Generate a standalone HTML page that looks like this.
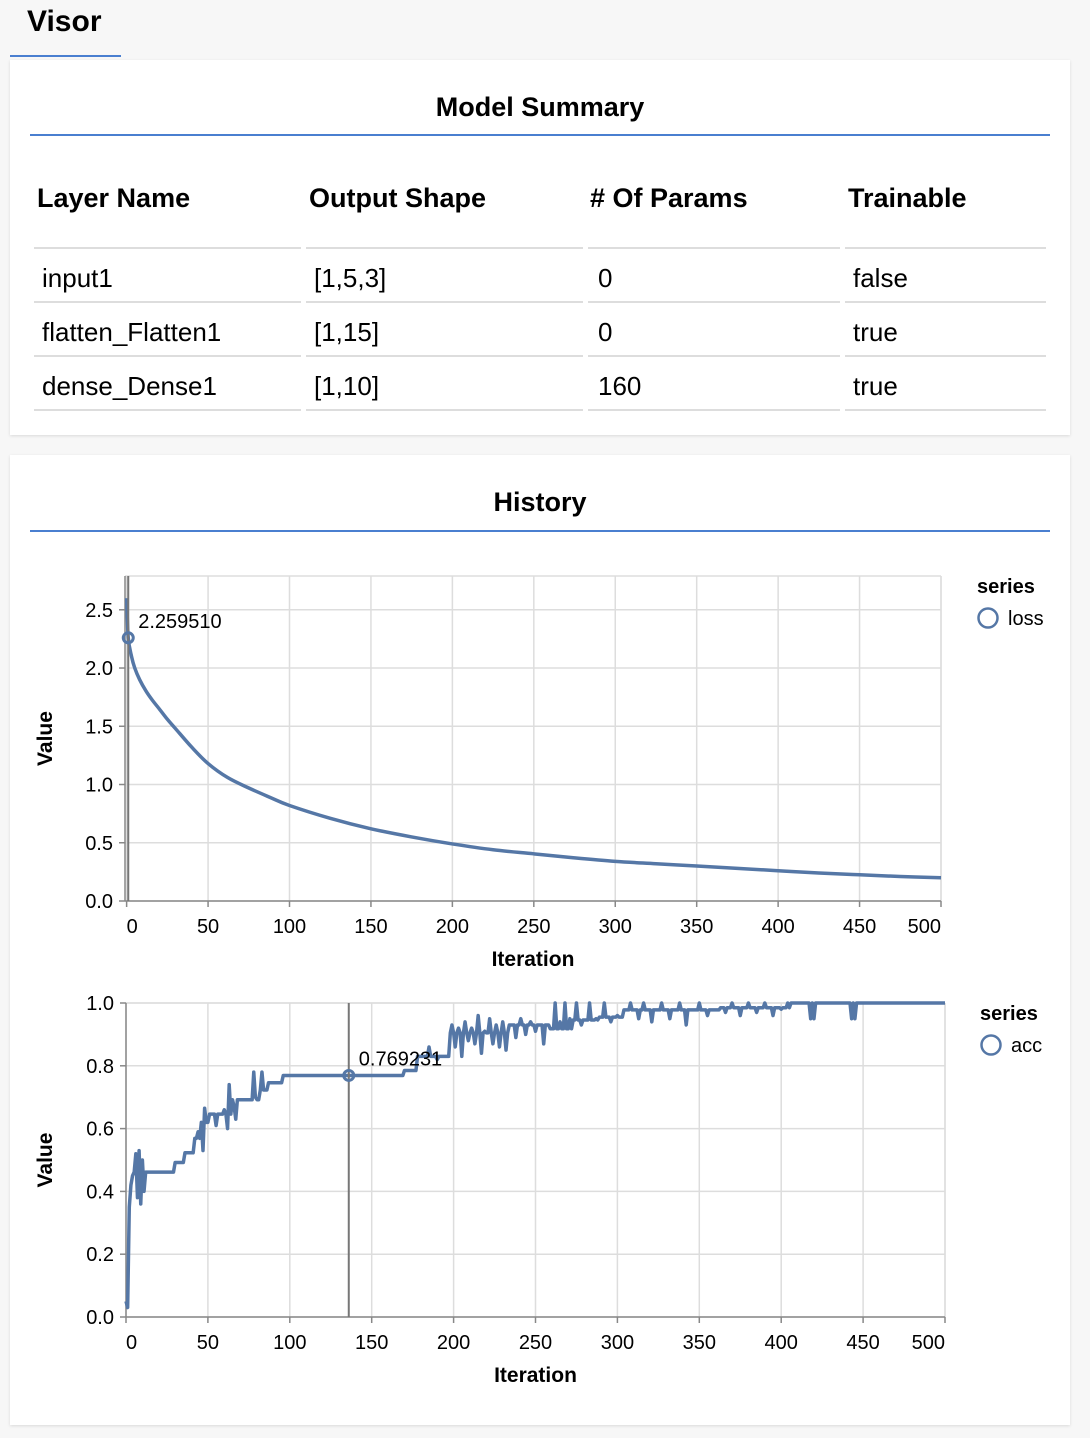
<!DOCTYPE html>
<html><head><meta charset="utf-8">
<style>
body{margin:0;width:1090px;height:1438px;background:#f7f7f7;font-family:"Liberation Sans",Arial,sans-serif;position:relative;overflow:hidden;color:#000}
.tab{position:absolute;left:27px;top:5px;font-size:30px;font-weight:bold}
.tabline{position:absolute;left:10px;top:55px;width:111px;height:2px;background:#4a7fd0}
.card{position:absolute;left:10px;width:1060px;background:#fff;box-shadow:0 1px 3px rgba(0,0,0,0.12)}
.ctitle{position:absolute;left:0;width:1060px;text-align:center;font-size:27px;font-weight:bold}
.cline{position:absolute;left:20px;width:1020px;height:2px;background:#4a7fd0}
.th{position:absolute;font-size:27px;font-weight:bold}
.td{position:absolute;font-size:26px}
.hl{position:absolute;height:2px;background:#ddd}
</style></head><body>
<div class="tab">Visor</div>
<div class="tabline"></div>

<div class="card" style="top:60px;height:375px">
<div class="ctitle" style="top:32px">Model Summary</div>
<div class="cline" style="top:74px"></div>
<div class="th" style="left:27px;top:123px">Layer Name</div>
<div class="th" style="left:299px;top:123px">Output Shape</div>
<div class="th" style="left:580px;top:123px"># Of Params</div>
<div class="th" style="left:838px;top:123px">Trainable</div>
<div id="rows"></div>
</div>

<div class="card" style="top:455px;height:970px">
<div class="ctitle" style="top:32px">History</div>
<div class="cline" style="top:75px"></div>
</div>

<svg id="chart" width="1090" height="1438" style="position:absolute;left:0;top:0"></svg>

<script>
// table
const layerNames=["input1","flatten_Flatten1","dense_Dense1"];
const shapes=["[1,5,3]","[1,15]","[1,10]"];
const params=["0","0","160"];
const trainable=["false","true","true"];
const rowsEl=document.getElementById('rows');
const colX=[[24,291],[296,573],[578,830],[835,1036]];
const textX=[32,304,588,843];
let h='';
for(let r=0;r<4;r++){
  const y=187+r*54;
  colX.forEach(c=>{h+=`<div class="hl" style="left:${c[0]}px;top:${y}px;width:${c[1]-c[0]}px"></div>`;});
  if(r>=3)continue;
  const vals=[layerNames[r],shapes[r],params[r],trainable[r]];
  const nm=['layer-name','output-shape','param-count','trainable'];
  vals.forEach((v,i)=>{h+=`<div class="td" style="left:${textX[i]}px;top:${y+16}px">${v}</div>`;});
}
rowsEl.innerHTML=h;

// loss data
const lossIter=[0,1,3,5,8,12,16,20,25,30,40,50,62,75,88,100,125,150,175,200,225,250,275,300,325,350,375,400,425,450,475,500];
const lossVal=[2.6,2.25951,2.1,2.0,1.9,1.80,1.72,1.65,1.56,1.48,1.32,1.18,1.06,0.97,0.89,0.82,0.71,0.62,0.55,0.49,0.44,0.405,0.37,0.34,0.32,0.30,0.28,0.26,0.24,0.225,0.21,0.20];
const lossTicks=[0,0.5,1.0,1.5,2.0,2.5];
// acc data
const stepStart=[0,1,2,3,4,5,30,36,42,46,51,65,82,87,96,170,178,198,234,259,273,289,304,363,406];
const stepLevel=[0.05,0.2,0.35,0.42,0.45,0.4615,0.492,0.523,0.569,0.62,0.646,0.692,0.723,0.746,0.769,0.785,0.830,0.905,0.93,0.918,0.946,0.955,0.978,0.985,1.0];
const spikeIter=[1,6,7,8,9,10,11,44,47,48,55,60,62,63,66,67,78,79,83,185,190,199,201,203,205,207,209,211,213,215,217,219,222,224,226,228,230,232,238,241,244,247,250,255,262,265,268,271,275,278,283,287,292,296,300,308,313,316,321,327,332,338,342,350,355,366,370,375,380,385,390,395,400,404,418,420,443,445];
const spikeVal=[0.03,0.52,0.38,0.53,0.36,0.50,0.40,0.59,0.53,0.665,0.61,0.66,0.60,0.74,0.67,0.63,0.78,0.70,0.78,0.86,0.82,0.93,0.86,0.92,0.83,0.94,0.88,0.92,0.87,0.96,0.84,0.91,0.95,0.87,0.93,0.86,0.94,0.85,0.89,0.95,0.90,0.94,0.91,0.87,1.0,0.94,1.0,0.95,1.0,0.93,1.0,0.95,1.0,0.94,0.96,1.0,0.95,1.0,0.94,1.0,0.95,1.0,0.93,1.0,0.96,0.97,1.0,0.96,1.0,0.97,1.0,0.96,0.98,1.0,0.95,0.95,0.95,0.95];
const accTicks=[0,0.2,0.4,0.6,0.8,1.0];
const iterTicks=[0,50,100,150,200,250,300,350,400,450,500];

const svg=document.getElementById('chart');
const NS='http://www.w3.org/2000/svg';
function el(tag,attrs,parent){const e=document.createElementNS(NS,tag);for(const k in attrs)e.setAttribute(k,attrs[k]);(parent||svg).appendChild(e);return e;}

function drawChart(cfg){
  const g=el('g',{});
  
  
  const xs=v=>cfg.x0+(v-cfg.xmin)*(cfg.x1-cfg.x0)/(cfg.xmax-cfg.xmin);
  const ys=v=>cfg.y0-(v-cfg.ymin)*(cfg.y0-cfg.y1)/(cfg.ymax-cfg.ymin);
  iterTicks.forEach(t=>{const l=el('line',{x1:xs(t),x2:xs(t),y1:cfg.y1,y2:cfg.y0,stroke:'#ddd','stroke-width':1.5},g);});
  cfg.yTicks.forEach(t=>{const l=el('line',{x1:cfg.x0,x2:cfg.x1,y1:ys(t),y2:ys(t),stroke:'#ddd','stroke-width':1.5},g);});
  el('line',{x1:cfg.x0,x2:cfg.x1,y1:cfg.y1,y2:cfg.y1,stroke:'#ddd','stroke-width':1.5},g);
  el('line',{x1:cfg.x1,x2:cfg.x1,y1:cfg.y1,y2:cfg.y0,stroke:'#ddd','stroke-width':1.5},g);
  const xa=el('line',{x1:cfg.x0,x2:cfg.x1,y1:cfg.y0,y2:cfg.y0,stroke:'#888','stroke-width':1.5},g);
  
  const ya=el('line',{x1:cfg.x0,x2:cfg.x0,y1:cfg.y1,y2:cfg.y0,stroke:'#888','stroke-width':1.5},g);
  
  iterTicks.forEach((t,i)=>{
    el('line',{x1:xs(t),x2:xs(t),y1:cfg.y0,y2:cfg.y0+6,stroke:'#888','stroke-width':1.5},g);
    const anchor=i==0?'start':(i==iterTicks.length-1?'end':'middle');
    const tx=el('text',{x:xs(t)+(i==0?0:0),y:cfg.y0+32,'font-size':20,'text-anchor':anchor,fill:'#000'},g);
    tx.textContent=t;
  });
  cfg.yTicks.forEach(t=>{
    el('line',{x1:cfg.x0-6,x2:cfg.x0,y1:ys(t),y2:ys(t),stroke:'#888','stroke-width':1.5},g);
    const tx=el('text',{x:cfg.x0-12,y:ys(t)+7,'font-size':20,'text-anchor':'end',fill:'#000'},g);
    tx.textContent=t.toFixed(1);
  });
  const xt=el('text',{x:(cfg.x0+cfg.x1)/2,y:cfg.y0+65,'font-size':21,'font-weight':'bold','text-anchor':'middle'},g);
  xt.textContent='Iteration';
  const yc=(cfg.y0+cfg.y1)/2;
  const yt=el('text',{x:52,y:yc,'font-size':21,'font-weight':'bold','text-anchor':'middle',transform:`rotate(-90 52 ${yc})`},g);
  yt.textContent='Value';
  const P=cfg.px.map((p,i)=>[xs(p),ys(cfg.py[i])]);
  let d='M'+P[0][0].toFixed(2)+','+P[0][1].toFixed(2);
  if(cfg.smooth){
    for(let i=0;i<P.length-1;i++){
      const p0=P[Math.max(0,i-1)],p1=P[i],p2=P[i+1],p3=P[Math.min(P.length-1,i+2)];
      const c1=[p1[0]+(p2[0]-p0[0])/6,p1[1]+(p2[1]-p0[1])/6],c2=[p2[0]-(p3[0]-p1[0])/6,p2[1]-(p3[1]-p1[1])/6];
      d+=`C${c1[0].toFixed(2)},${c1[1].toFixed(2)} ${c2[0].toFixed(2)},${c2[1].toFixed(2)} ${p2[0].toFixed(2)},${p2[1].toFixed(2)}`;
    }
  } else {
    for(let i=1;i<P.length;i++) d+='L'+P[i][0].toFixed(2)+','+P[i][1].toFixed(2);
  }
  const path=el('path',{d:d,fill:'none',stroke:'#5577a6','stroke-width':3.5,'stroke-linejoin':'round'},g);
  
  const r=el('line',{x1:xs(cfg.ruleX),x2:xs(cfg.ruleX),y1:cfg.y1,y2:cfg.y0,stroke:'#777','stroke-width':2},g);
  
  const c=el('circle',{cx:xs(cfg.ruleX),cy:ys(cfg.ruleY),r:5,fill:'none',stroke:'#5577a6','stroke-width':3},g);
  
  const lbl=el('text',{x:xs(cfg.ruleX)+10,y:ys(cfg.ruleY)-10,'font-size':20},g);
  lbl.textContent=cfg.ruleLabel;
  const lt=el('text',{x:cfg.legX,y:cfg.y1+17,'font-size':20,'font-weight':'bold'},g);
  lt.textContent='series';
  const lc=el('circle',{cx:cfg.legX+11,cy:cfg.y1+42,r:9.5,fill:'none',stroke:'#5577a6','stroke-width':2.5},g);
  
  const ll=el('text',{x:cfg.legX+31,y:cfg.y1+49,'font-size':20},g);
  ll.textContent=cfg.series;
}

drawChart({name:'loss-chart',series:'loss',smooth:true,x0:125,x1:941,y0:901,y1:576,xmin:-1,xmax:500,ymin:0,ymax:2.79,
  yTicks:lossTicks,px:lossIter,py:lossVal,ruleX:lossIter[1],ruleY:lossVal[1],ruleLabel:'2.259510',legX:977});

const accIt=[],accV=[];
for(let i=0;i<=500;i++){
  let lv=stepLevel[0];
  for(let s=0;s<stepStart.length;s++) if(i>=stepStart[s]) lv=stepLevel[s];
  const k=spikeIter.indexOf(i);
  accIt.push(i);accV.push(k>=0?spikeVal[k]:lv);
}
drawChart({name:'acc-chart',series:'acc',x0:126,x1:945,y0:1317,y1:1003,xmin:0,xmax:500,ymin:0,ymax:1,
  yTicks:accTicks,px:accIt,py:accV,ruleX:136,ruleY:0.769231,ruleLabel:'0.769231',legX:980});
</script>
</body></html>
